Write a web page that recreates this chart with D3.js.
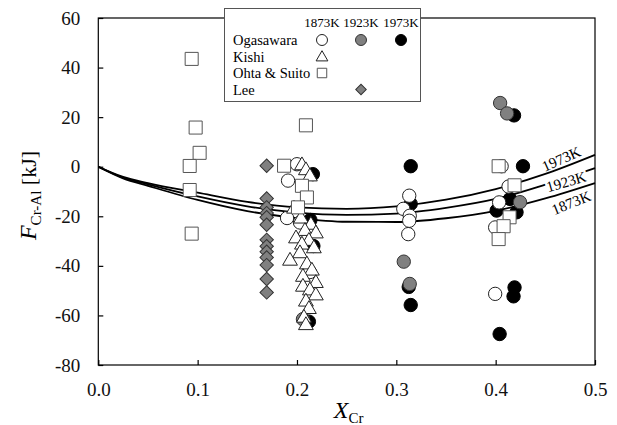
<!DOCTYPE html>
<html>
<head>
<meta charset="utf-8">
<script src="https://cdn.jsdelivr.net/npm/d3@7"></script>
<style>
  html, body { margin: 0; padding: 0; background: #fff; }
  svg { display: block; }
  svg text { font-family: "Liberation Serif", "DejaVu Serif", serif; }
</style>
</head>
<body>
<svg id="chart" width="617" height="425"></svg>
<script>
// Interaction parameter curves, F(X) in kJ, one per temperature
const curveX    = [0, 0.025, 0.05, 0.1, 0.15, 0.2, 0.25, 0.3, 0.35, 0.4, 0.45, 0.5];
const curve1973 = [0, -4.1, -6.6, -10.5, -14.2, -16.4, -17.0, -16.0, -13.3, -9.0, -2.9, 4.8];
const curve1923 = [0, -4.4, -7.1, -12.0, -16.0, -18.5, -19.4, -18.9, -16.6, -13.0, -7.2, -0.6];
const curve1873 = [0, -4.7, -7.7, -13.4, -17.9, -20.7, -22.2, -22.3, -20.8, -17.8, -12.8, -6.6];

// Measured points [X_Cr, F]
const ogasawara1873 = [[0.200,1],[0.191,-5.6],[0.190,-20.7],[0.203,-22.5],[0.213,-42.5],
  [0.313,-11.7],[0.307,-17],[0.3135,-19.8],[0.313,-21.8],[0.312,-27.2],
  [0.406,0.2],[0.413,-8],[0.4035,-14.4],[0.3995,-24.5],[0.3995,-51.3]];
const ogasawara1923 = [[0.206,-61.5],[0.3075,-38.3],[0.3135,-47.3],[0.4045,25.7],[0.4115,21.5],[0.4245,-14.3]];
const ogasawara1973 = [[0.216,-3],[0.2135,-21.5],[0.2165,-32],[0.212,-62.5],
  [0.3145,0.2],[0.3145,-15],[0.3125,-48.5],[0.3145,-55.8],
  [0.4185,20.7],[0.4275,0.2],[0.4145,-13],[0.401,-17.7],[0.421,-18.4],[0.419,-48.7],[0.418,-52.3],[0.404,-67.5]];
const kishi1873 = [[0.205,0.5],[0.209,-1.5],[0.213,-4],[0.197,-17],[0.204,-21],[0.214,-23.5],[0.208,-26],
  [0.219,-27],[0.199,-29],[0.212,-30],[0.205,-31.5],[0.217,-33],[0.203,-35],[0.193,-38],[0.21,-39.5],
  [0.215,-42],[0.206,-44.5],[0.219,-47],[0.206,-48.5],[0.213,-50],[0.219,-52],[0.209,-54.5],
  [0.212,-57.5],[0.207,-61],[0.209,-64]];
const ohtaSuito1873 = [[0.094,43.5],[0.098,15.8],[0.102,5.6],[0.092,0.3],[0.092,-9.4],[0.094,-27],
  [0.187,0.4],[0.209,16.7],[0.205,-7.7],[0.21,-12.4],[0.201,-16.4],
  [0.403,0.2],[0.419,-7.5],[0.414,-20.4],[0.408,-24],[0.403,-29.2]];
const lee1923 = [[0.1695,0.4],[0.1695,-12.8],[0.1695,-16.4],[0.1695,-18.7],[0.1695,-20.4],[0.1695,-23.4],
  [0.1695,-29.5],[0.1695,-32.1],[0.1695,-34.3],[0.1695,-36.6],[0.1695,-39.7],[0.1695,-45.3],[0.1695,-50.7]];

const xTicks = [0, 0.1, 0.2, 0.3, 0.4, 0.5];
const yTicks = [-80, -60, -40, -20, 0, 20, 40, 60];
const tempLabels = ["1873K", "1923K", "1973K"];
const authors = ["Ogasawara", "Kishi", "Ohta & Suito", "Lee"];

const SERIF = "'Liberation Serif', 'DejaVu Serif', serif";
const svg = d3.select("#chart");
const x = d3.scaleLinear().domain([0, 0.5]).range([98.3, 595]);
const y = d3.scaleLinear().domain([-80, 60]).range([365, 18]);

// axes with inward ticks
const xAxis = svg.append("g").attr("transform", `translate(0,${y(-80)})`)
  .call(d3.axisBottom(x).tickValues(xTicks).tickFormat(d3.format(".1f"))
    .tickSizeInner(-5).tickSizeOuter(0).tickPadding(18));
const yAxis = svg.append("g").attr("transform", `translate(${x(0)},0)`)
  .call(d3.axisLeft(y).tickValues(yTicks).tickFormat(d => String(d))
    .tickSizeInner(-5).tickSizeOuter(0).tickPadding(18));
[xAxis, yAxis].forEach(g => {
  g.attr("font-family", null);
  g.select(".domain").remove();
  g.selectAll("line").attr("stroke", "#000").attr("stroke-width", 1.2);
  g.selectAll("text").style("font-family", SERIF).attr("font-size", 19).attr("fill", "#111");
});

// frame
svg.append("rect").attr("x", x(0)).attr("y", y(60))
  .attr("width", x(0.5) - x(0)).attr("height", y(-80) - y(60))
  .attr("fill", "none").attr("stroke", "#000").attr("stroke-width", 1.2);

// curves
const line = d3.line().x(d => x(d[0])).y(d => y(d[1])).curve(d3.curveMonotoneX);
const curves = [curve1973, curve1923, curve1873];
curves.forEach(c => {
  svg.append("path").datum(curveX.map((v, i) => [v, c[i]]))
    .attr("d", line).attr("fill", "none").attr("stroke", "#000").attr("stroke-width", 1.8);
});

// curve labels
const curveLabels = [
  {t: "1973K", xv: 0.466, yv: 3.2, rot: -24, halo: false},
  {t: "1923K", xv: 0.471, yv: -6.0, rot: -16, halo: true},
  {t: "1873K", xv: 0.476, yv: -14.5, rot: -22, halo: false}
];
curveLabels.forEach(l => {
  const tx = svg.append("text")
    .attr("transform", `translate(${x(l.xv)},${y(l.yv)}) rotate(${l.rot})`)
    .attr("text-anchor", "middle").attr("dy", "0.35em")
    .attr("font-size", 15).attr("fill", "#000").text(l.t);
  if (l.halo) tx.attr("stroke", "#fff").attr("stroke-width", 4).attr("paint-order", "stroke");
});

// marker helpers
const symCircle = d3.symbol().type(d3.symbolCircle);
const symSquare = d3.symbol().type(d3.symbolSquare);
const symTri = d3.symbol().type(d3.symbolTriangle);

function drawSeries(data, sym, size, fill, stroke, rot) {
  svg.append("g").selectAll("path").data(data).join("path")
    .attr("d", sym.size(size)())
    .attr("transform", d => `translate(${x(d[0])},${y(d[1])}) rotate(${rot || 0})`)
    .attr("fill", fill).attr("stroke", stroke).attr("stroke-width", 1);
}

drawSeries(ogasawara1973, symCircle, 140, "#000", "#000");
drawSeries(ogasawara1923, symCircle, 140, "#808080", "#333");
drawSeries(ogasawara1873, symCircle, 140, "#fff", "#222");
drawSeries(kishi1873, symTri, 95, "#fff", "#222");
drawSeries(ohtaSuito1873, symSquare, 170, "#fff", "#555");
drawSeries(lee1923, symSquare, 90, "#808080", "#333", 45);

// legend
const lg = svg.append("g");
lg.append("rect").attr("x", 224.5).attr("y", 8.5).attr("width", 196).attr("height", 93)
  .attr("fill", "#fff").attr("stroke", "#555").attr("stroke-width", 1);
const colX = [322, 361, 401];
tempLabels.forEach((t, i) => {
  lg.append("text").attr("x", colX[i]).attr("y", 27).attr("text-anchor", "middle")
    .attr("font-size", 13).attr("fill", "#000").text(t);
});
const rowY = [40, 56.5, 73, 89.5];
authors.forEach((a, i) => {
  lg.append("text").attr("x", 233).attr("y", rowY[i]).attr("dy", "0.35em")
    .attr("font-size", 14.5).attr("fill", "#000").text(a);
});
function legendSym(cx, cy, sym, size, fill, stroke, rot) {
  lg.append("path").attr("d", sym.size(size)())
    .attr("transform", `translate(${cx},${cy}) rotate(${rot || 0})`)
    .attr("fill", fill).attr("stroke", stroke).attr("stroke-width", 1);
}
legendSym(colX[0], rowY[0], symCircle, 95, "#fff", "#222");
legendSym(colX[1], rowY[0], symCircle, 95, "#808080", "#333");
legendSym(colX[2], rowY[0], symCircle, 95, "#000", "#000");
legendSym(colX[0], rowY[1] + 1, symTri, 60, "#fff", "#222");
legendSym(colX[0], rowY[2], symSquare, 90, "#fff", "#555");
legendSym(colX[1], rowY[3], symSquare, 55, "#808080", "#333", 45);

// axis titles
const yt = svg.append("text")
  .attr("transform", `translate(36,${(y(60) + y(-80)) / 2 + 4}) rotate(-90)`)
  .attr("text-anchor", "middle").attr("font-size", 22).attr("fill", "#000");
yt.append("tspan").attr("font-style", "italic").attr("font-size", 24).text("F");
yt.append("tspan").attr("font-size", 15).attr("dy", 5).text("Cr-Al");
yt.append("tspan").attr("dy", -5).text(" [kJ]");

const xt = svg.append("text").attr("x", x(0.25) + 2).attr("y", 418)
  .attr("text-anchor", "middle").attr("font-size", 22).attr("fill", "#000");
xt.append("tspan").attr("font-style", "italic").attr("font-size", 24).text("X");
xt.append("tspan").attr("font-size", 15).attr("dy", 5).text("Cr");
</script>
</body>
</html>
